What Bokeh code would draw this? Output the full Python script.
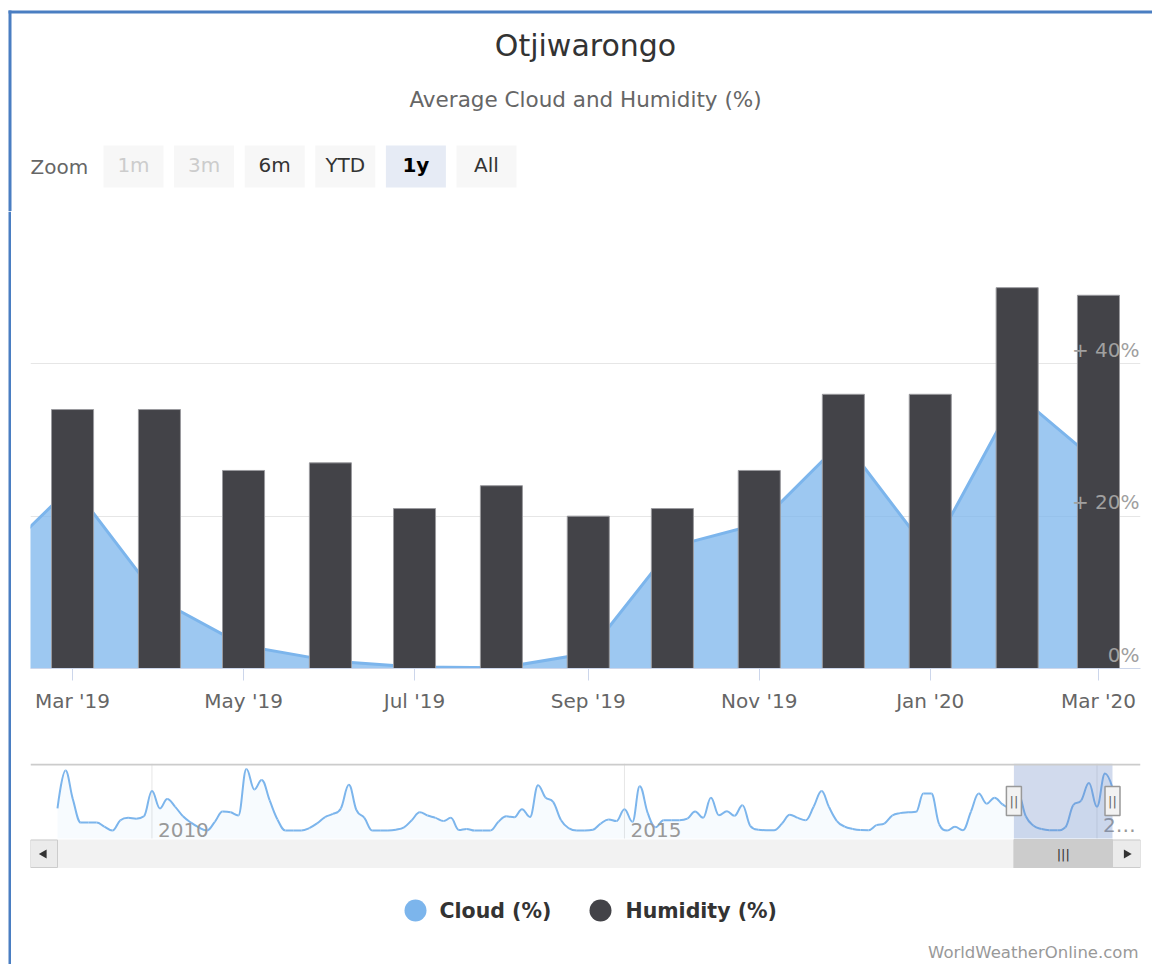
import numpy as np
import pandas as pd
from bokeh.plotting import figure
from bokeh.layouts import column, row
from bokeh.models import Range1d, FixedTicker, MonthsTicker, DatetimeTickFormatter
from bokeh.core.properties import value
from bokeh.embed import file_html
from bokeh.resources import INLINE

# ---------------- data ----------------
TITLE = "Otjiwarongo"
SUBTITLE = "Average Cloud and Humidity (%)"
ZOOM_LABEL = "Zoom"
zoom_buttons = ["1m", "3m", "6m", "YTD", "1y", "All"]
zoom_state = ["disabled", "disabled", "normal", "normal", "selected", "normal"]

# monthly average cloud (%) from Jan 2009
cloud_2009 = [14, 38, 20, 5, 5, 5, 2.5, 0, 6.5, 8, 7.5, 9]
cloud_2010 = [25, 14, 20, 15, 9, 5, 2, 0, 5.5, 12, 11.5, 9.5]
cloud_2011 = [39, 26, 32, 19, 7, 0, 0, 0, 1.5, 4.5, 8.5, 10.5]
cloud_2012 = [14, 29, 13, 8, 0, 0, 0, 0.5, 2, 6.5, 11.5, 9.5]
cloud_2013 = [8, 6, 8, 0.3, 1, 0, 0, 0, 5.5, 9, 8.4, 13.5]
cloud_2014 = [8.6, 28.7, 21, 18, 6.5, 1.3, 0, 0, 0.5, 4.4, 7, 6]
cloud_2015 = [13.5, 5.5, 28, 11, 2, 6.5, 6.5, 6.5, 7.5, 12, 8, 20.7]
cloud_2016 = [9.7, 12.2, 9.3, 16, 3, 0.5, 0.2, 0.2, 4.4, 10, 8, 6.5]
cloud_2017 = [15, 25, 15, 6, 2.5, 1, 0.3, 0.2, 3.4, 4.4, 9.5, 11]
cloud_2018 = [11.5, 11.8, 23.4, 23.4, 4, 0, 2.3, 0.2, 12, 23.4, 17, 20.7]
cloud_2019 = [16.5, 14, 24, 9, 3, 1, 0.2, 0.1, 2, 16, 19, 30]
cloud_2020 = [15, 36, 27]
cloud_start = "2009-01-01"

# monthly average humidity (%) Mar 2019 - Mar 2020
humidity_start = "2019-03-01"
humidity = [34, 34, 26, 27, 21, 24, 20, 21, 26, 36, 36, 50, 49]

y_ticks = [0, 20, 40, 60]
y_tick_labels = ["0%", "+ 20%", "+ 40%"]
x_tick_months = [0, 2, 4, 6, 8, 10]
nav_tick_years = ["2010-01-01", "2015-01-01", "2020-01-01"]
nav_tick_labels = ["2010", "2015", "2\u2026"]
legend_labels = ["Cloud (%)", "Humidity (%)"]
CREDITS = "WorldWeatherOnline.com"

CLOUD_COLOR = "#7cb5ec"
HUM_COLOR = "#434348"
BORDER_BLUE = "#4a7ec2"
FONT = "DejaVu Sans"

# ---------------- derived ----------------
cloud = (cloud_2009 + cloud_2010 + cloud_2011 + cloud_2012 + cloud_2013 + cloud_2014
         + cloud_2015 + cloud_2016 + cloud_2017 + cloud_2018 + cloud_2019 + cloud_2020)
cloud_ms = pd.date_range(cloud_start, periods=len(cloud), freq="MS").asi8 / 1e6
hum_ms = pd.date_range(humidity_start, periods=len(humidity), freq="MS").asi8 / 1e6
DAY = 86400000.0

FULL_W = 1152
LEFT = 11           # width of the left strip (margin + blue border)
W = FULL_W - LEFT   # width of the chart column
H_HEAD, H_MAIN, H_NAV, H_FOOT = 211, 519, 138, 96


def base_fig(w, h, **kw):
    p = figure(width=w, height=h, toolbar_location=None, output_backend="svg",
               title=None, min_border=0, outline_line_color=None,
               background_fill_color="white", border_fill_color="white", **kw)
    return p


def spline_controls(xs, ys, smoothing=1.5):
    """Highcharts-style spline control points, drawn with Bokeh bezier glyphs."""
    xs = np.asarray(xs, float)
    ys = np.asarray(ys, float)
    n = len(xs)
    lcx, lcy = xs.copy(), ys.copy()
    rcx, rcy = xs.copy(), ys.copy()
    den = smoothing + 1
    for i in range(1, n - 1):
        px, py = xs[i], ys[i]
        lx, ly = xs[i - 1], ys[i - 1]
        nx, nyv = xs[i + 1], ys[i + 1]
        lcx_, lcy_ = (smoothing * px + lx) / den, (smoothing * py + ly) / den
        rcx_, rcy_ = (smoothing * px + nx) / den, (smoothing * py + nyv) / den
        if rcx_ != lcx_:
            corr = (rcy_ - lcy_) * (rcx_ - px) / (rcx_ - lcx_) + py - rcy_
            lcy_ += corr
            rcy_ += corr
            if lcy_ > ly and lcy_ > py:
                lcy_ = max(ly, py)
                rcy_ = 2 * py - lcy_
            elif lcy_ < ly and lcy_ < py:
                lcy_ = min(ly, py)
                rcy_ = 2 * py - lcy_
            if rcy_ > nyv and rcy_ > py:
                rcy_ = max(nyv, py)
                lcy_ = 2 * py - rcy_
            elif rcy_ < nyv and rcy_ < py:
                rcy_ = min(nyv, py)
                lcy_ = 2 * py - rcy_
        lcx[i], lcy[i], rcx[i], rcy[i] = lcx_, lcy_, rcx_, rcy_
    return dict(x0=xs[:-1], y0=ys[:-1], x1=xs[1:], y1=ys[1:],
                cx0=rcx[:-1], cy0=rcy[:-1], cx1=lcx[1:], cy1=lcy[1:])


# ---------------- header (page pixel coordinates) ----------------
pA = base_fig(FULL_W, H_HEAD, x_range=Range1d(0, FULL_W), y_range=Range1d(H_HEAD, 0),
              x_axis_type=None, y_axis_type=None)
pA.quad(left=[8, 8], right=[FULL_W, 11], top=[10, 10], bottom=[13, H_HEAD],
        fill_color=BORDER_BLUE, line_color=None)
pA.text(x=[585], y=[45], text=[TITLE], text_align="center", text_baseline="middle",
        text_font=value(FONT), text_font_size="30px", text_color="#333333")
pA.text(x=[585], y=[99], text=[SUBTITLE], text_align="center", text_baseline="middle",
        text_font=value(FONT), text_font_size="21.5px", text_color="#666666")
pA.text(x=[30], y=[166], text=[ZOOM_LABEL], text_align="left", text_baseline="middle",
        text_font=value(FONT), text_font_size="20px", text_color="#666666")
btn_left = [103 + i * 70.6 for i in range(len(zoom_buttons))]
btn_fill = ["#e6ebf5" if s == "selected" else "#f7f7f7" for s in zoom_state]
btn_text_col = {"disabled": "#cccccc", "normal": "#333333", "selected": "#000000"}
pA.quad(left=btn_left, right=[l + 60 for l in btn_left], top=[145] * 6, bottom=[187] * 6,
        fill_color=btn_fill, line_color=None)
for lbl, st, l in zip(zoom_buttons, zoom_state, btn_left):
    pA.text(x=[l + 30], y=[164], text=[lbl], text_align="center", text_baseline="middle",
            text_font=value(FONT), text_font_size="20px", text_color=btn_text_col[st],
            text_font_style="bold" if st == "selected" else "normal")

# ---------------- left strip with the blue border ----------------
H_REST = H_MAIN + H_NAV + H_FOOT
pL = base_fig(LEFT, H_REST, x_range=Range1d(0, LEFT), y_range=Range1d(H_REST, 0),
              x_axis_type=None, y_axis_type=None)
pL.quad(left=[8], right=[11], top=[0], bottom=[H_REST], fill_color=BORDER_BLUE,
        line_color=None)

# ---------------- main chart ----------------
x0 = hum_ms[0] - 15 * DAY
x1 = hum_ms[-1] + 15 * DAY
pB = base_fig(W, H_MAIN, x_axis_type="datetime", y_axis_location=None,
              x_range=Range1d(x0, x1), y_range=Range1d(0, 60))
pB.min_border_left = 19
pB.min_border_right = 12
pB.min_border_top = 0
pB.min_border_bottom = 62
pB.xgrid.visible = False
pB.ygrid.ticker = FixedTicker(ticks=y_ticks)
pB.ygrid.grid_line_color = "#e6e6e6"
pB.ygrid.grid_line_width = 1

pB.varea(x=cloud_ms, y1=0, y2=cloud, fill_color=CLOUD_COLOR, fill_alpha=0.75)
pB.line(x=cloud_ms, y=cloud, line_color=CLOUD_COLOR, line_width=3)
pB.vbar(x=hum_ms, top=humidity, width=15 * DAY, fill_color=HUM_COLOR,
        line_color="#9a9a9e", line_width=1)
pB.text(x=[x1] * len(y_tick_labels), y=y_ticks[:len(y_tick_labels)], text=y_tick_labels,
        text_align="right", text_baseline="bottom", y_offset=-2, x_offset=-1,
        text_font=value(FONT), text_font_size="20px", text_color="#a0a0a0")

ax = pB.xaxis[0]
ax.ticker = MonthsTicker(months=x_tick_months)
ax.formatter = DatetimeTickFormatter(days="%b '%y", months="%b '%y", years="%b '%y")
ax.axis_line_color = "#ccd6eb"
ax.major_tick_line_color = "#ccd6eb"
ax.major_tick_out = 12
ax.major_tick_in = 0
ax.minor_tick_out = 0
ax.minor_tick_in = 0
ax.major_label_standoff = 8
ax.major_label_text_font = FONT
ax.major_label_text_font_size = "20px"
ax.major_label_text_color = "#666666"

# ---------------- navigator + scrollbar ----------------
span = cloud_ms[-1] - cloud_ms[0]
pxd = span / 1055.0
cx0 = cloud_ms[0] - 27 * pxd
cx1 = cloud_ms[-1] + 28 * pxd


def ny(page_y):
    return (830.0 - page_y) / 1.58


pC = base_fig(W, H_NAV, x_range=Range1d(cx0, cx1), y_range=Range1d(ny(868), ny(763)),
              x_axis_type=None, y_axis_type=None)
pC.min_border_left = 19
pC.min_border_right = 12
pC.min_border_top = 33
pC.min_border_bottom = 0

nav_bottom = ny(838)
nav_top = ny(763)
tick_ms = pd.to_datetime(nav_tick_years).asi8 / 1e6
pC.segment(x0=tick_ms, x1=tick_ms, y0=[nav_bottom] * 3, y1=[nav_top] * 3,
           line_color="#e6e6e6", line_width=1)
pC.varea(x=cloud_ms, y1=nav_bottom, y2=cloud, fill_color=CLOUD_COLOR, fill_alpha=0.06)
pC.bezier(line_color=CLOUD_COLOR, line_width=2, **spline_controls(cloud_ms, cloud))
pC.text(x=tick_ms, y=[nav_bottom] * 3, text=nav_tick_labels, x_offset=6, y_offset=-2,
        text_align="left", text_baseline="bottom", text_font=value(FONT),
        text_font_size="20px", text_color="#999999")
sel0 = max(x0, cloud_ms[0])
sel1 = min(x1, cloud_ms[-1])
pC.quad(left=[sel0], right=[sel1], bottom=[nav_bottom], top=[nav_top],
        fill_color="#6685c2", fill_alpha=0.3, line_color=None)
pC.segment(x0=[cx0], x1=[cx1], y0=[ny(764)], y1=[ny(764)], line_color="#cccccc", line_width=2)
hy = ny(800.5)
pC.rect(x=[sel0, sel1], y=[hy, hy], width=15, height=29, width_units="screen",
        height_units="screen", fill_color="#f2f2f2", line_color="#999999", line_width=1.5)
pC.text(x=[sel0, sel1], y=[hy, hy], text=["||", "||"], text_align="center",
        text_baseline="middle", text_font=value(FONT), text_font_size="13px",
        text_color="#666666")
# scrollbar
sb_top = ny(839)
sb_bot = ny(868)
pC.quad(left=[cx0], right=[cx1], bottom=[sb_bot], top=[sb_top], fill_color="#f2f2f2",
        line_color=None)
pC.quad(left=[cx0, cloud_ms[-1]], right=[cloud_ms[0], cx1], bottom=[ny(867)] * 2,
        top=[ny(839.5)] * 2, fill_color="#ebebeb", line_color="#cccccc", line_width=1)
pC.quad(left=[sel0], right=[sel1], bottom=[sb_bot], top=[sb_top], fill_color="#cccccc",
        line_color="#cccccc")
ay = ny(853.5)
pC.scatter(x=[(cx0 + cloud_ms[0]) / 2], y=[ay], marker="triangle", angle=np.pi / 2, size=9,
           fill_color="#333333", line_color=None)
pC.scatter(x=[(cloud_ms[-1] + cx1) / 2], y=[ay], marker="triangle", angle=-np.pi / 2, size=9,
           fill_color="#333333", line_color=None)
pC.text(x=[(sel0 + sel1) / 2], y=[ay], text=["|||"], text_align="center",
        text_baseline="middle", text_font=value(FONT), text_font_size="13px",
        text_color="#333333")

# ---------------- legend + credits ----------------
# this figure's frame is aligned with the charts above (page x 30..1140),
# so its x range is given in page pixels; y is page y - 868
pD = base_fig(W, H_FOOT, x_range=Range1d(30, 1140), y_range=Range1d(H_FOOT, 0),
              x_axis_type=None, y_axis_type=None)
pD.min_border_left = 19
pD.min_border_right = 12
pD.scatter(x=[415, 600], y=[42, 42], size=22, marker="circle",
           fill_color=[CLOUD_COLOR, HUM_COLOR], line_color=None)
pD.text(x=[439, 625], y=[42, 42], text=legend_labels, text_align="left",
        text_baseline="middle", text_font=value(FONT), text_font_size="20.5px",
        text_font_style="bold", text_color="#333333")
pD.text(x=[1138], y=[84], text=[CREDITS], text_align="right", text_baseline="middle",
        text_font=value(FONT), text_font_size="16.5px", text_color="#999999")

layout = column(pA, row(pL, column(pB, pC, pD)))

open("out.html", "w").write(file_html(layout, INLINE))
